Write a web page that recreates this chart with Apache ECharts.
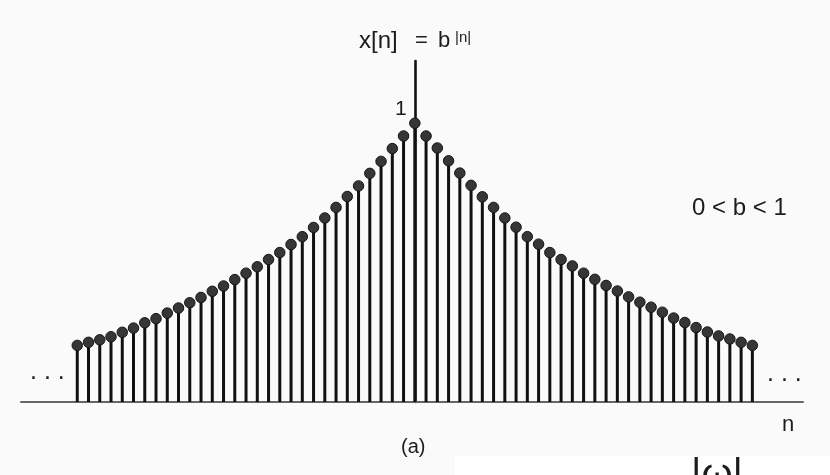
<!DOCTYPE html>
<html>
<head>
<meta charset="utf-8">
<script src="https://cdn.jsdelivr.net/npm/echarts@6/dist/echarts.min.js"></script>
<style>
  html, body { margin: 0; padding: 0; background: #fafafa; }
  #chart { width: 830px; height: 475px; }
</style>
</head>
<body>
<div id="chart"></div>
<script>
// Sample index n of the two-sided sequence
const nIndex = [
  -30, -29, -28, -27, -26, -25, -24, -23, -22, -21,
  -20, -19, -18, -17, -16, -15, -14, -13, -12, -11,
  -10, -9, -8, -7, -6, -5, -4, -3, -2, -1,
  0,
  1, 2, 3, 4, 5, 6, 7, 8, 9, 10,
  11, 12, 13, 14, 15, 16, 17, 18, 19, 20,
  21, 22, 23, 24, 25, 26, 27, 28, 29, 30
];

// x[n] = b^|n| sample heights
const xValues = [
  0.203, 0.214, 0.223, 0.234, 0.250, 0.265, 0.284, 0.299, 0.319, 0.337,
  0.356, 0.375, 0.397, 0.416, 0.439, 0.462, 0.485, 0.511, 0.536, 0.565,
  0.593, 0.626, 0.660, 0.698, 0.737, 0.775, 0.820, 0.863, 0.909, 0.954,
  1.000,
  0.954, 0.911, 0.865, 0.821, 0.777, 0.736, 0.698, 0.660, 0.627, 0.593,
  0.566, 0.536, 0.511, 0.488, 0.462, 0.440, 0.418, 0.398, 0.377, 0.358,
  0.340, 0.322, 0.301, 0.285, 0.267, 0.251, 0.237, 0.226, 0.214, 0.203
];

// Text drawn on the figure
const titleParts = ['x[n]', '=', 'b', '|n|'];
const peakLabel = '1';
const conditionLabel = '0 < b < 1';
const axisName = 'n';
const captionLabel = '(a)';
const ellipsis = '. . .';
const cutoffText = '|ω|';

const stemData = nIndex.map((n, i) => [n, xValues[i]]);

const font = '"Liberation Sans", Arial, Helvetica, sans-serif';
const ink = '#1c1c1c';

const chart = echarts.init(document.getElementById('chart'), null, { renderer: 'canvas' });

chart.setOption({
  backgroundColor: '#fafafa',
  animation: false,
  grid: { left: 21, right: 27, top: 61, bottom: 73, containLabel: false },
  xAxis: {
    type: 'value',
    min: -35,
    max: 34.5,
    axisLine: { show: true, onZero: true, lineStyle: { color: '#666', width: 2 } },
    axisTick: { show: false },
    axisLabel: { show: false },
    splitLine: { show: false }
  },
  yAxis: {
    type: 'value',
    min: 0,
    max: 1.223,
    axisLine: { show: true, onZero: true, lineStyle: { color: '#111', width: 2.6 } },
    axisTick: { show: false },
    axisLabel: { show: false },
    splitLine: { show: false }
  },
  series: [
    {
      type: 'bar',
      data: stemData,
      barWidth: 3,
      itemStyle: { color: '#111' },
      z: 2
    },
    {
      type: 'scatter',
      data: stemData,
      symbol: 'circle',
      symbolSize: 10.5,
      itemStyle: { color: '#363636', borderColor: '#151515', borderWidth: 1, opacity: 1 },
      z: 3
    }
  ],
  graphic: [
    // equation heading
    { type: 'text', left: 359, top: 29, style: { text: titleParts[0], font: '24px ' + font, fill: ink } },
    { type: 'text', left: 415, top: 30, style: { text: titleParts[1], font: '22px ' + font, fill: ink } },
    { type: 'text', left: 438, top: 30, style: { text: titleParts[2], font: '22px ' + font, fill: ink } },
    { type: 'text', left: 455, top: 30, style: { text: titleParts[3], font: '15px ' + font, fill: ink } },
    // peak value
    { type: 'text', left: 395, top: 99, style: { text: peakLabel, font: '21px ' + font, fill: ink } },
    // parameter range
    { type: 'text', left: 692, top: 196, style: { text: conditionLabel, font: '24px ' + font, fill: ink } },
    // axis name
    { type: 'text', left: 782, top: 414, style: { text: axisName, font: '22px ' + font, fill: ink } },
    // caption
    { type: 'text', left: 401, top: 437, style: { text: captionLabel, font: '20px ' + font, fill: ink } },
    // continuation dots
    { type: 'text', left: 30, top: 360, style: { text: ellipsis, font: '25px ' + font, fill: ink } },
    { type: 'text', left: 767, top: 362, style: { text: ellipsis, font: '25px ' + font, fill: ink } },
    // start of the following block of text
    { type: 'rect', left: 455, top: 456, shape: { width: 375, height: 19 }, style: { fill: '#ffffff' } },
    { type: 'text', left: 691, top: 456, style: { text: cutoffText, font: '40px ' + font, fill: ink } }
  ]
});
</script>
</body>
</html>
